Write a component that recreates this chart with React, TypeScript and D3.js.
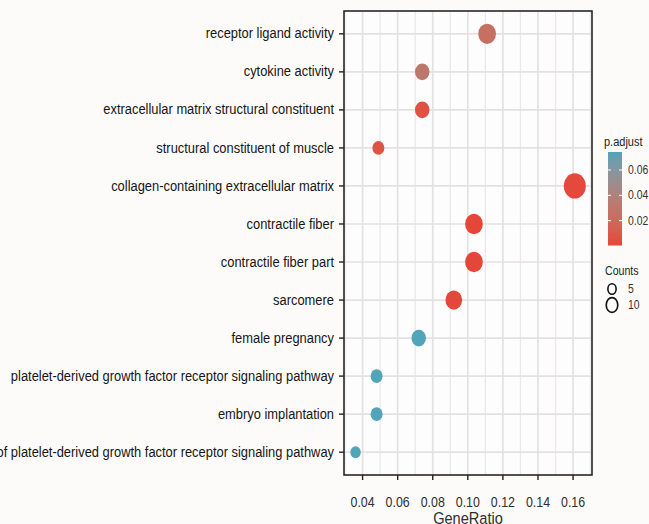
import React from "react";
import * as d3 from "d3";

// GO enrichment terms, top to bottom
const terms = [
  "receptor ligand activity",
  "cytokine activity",
  "extracellular matrix structural constituent",
  "structural constituent of muscle",
  "collagen-containing extracellular matrix",
  "contractile fiber",
  "contractile fiber part",
  "sarcomere",
  "female pregnancy",
  "platelet-derived growth factor receptor signaling pathway",
  "embryo implantation",
  "regulation of platelet-derived growth factor receptor signaling pathway",
];
const geneRatio = [0.111, 0.074, 0.074, 0.049, 0.161, 0.1035, 0.1035, 0.092, 0.072, 0.048, 0.048, 0.036];
const counts = [9, 6, 6, 4, 14, 9, 9, 8, 6, 4, 4, 3];
const pAdjust = [0.025, 0.031, 0.006, 0.007, 0.0015, 0.0004, 0.0006, 0.001, 0.0742, 0.0742, 0.0742, 0.0742];

const xTicks = [0.04, 0.06, 0.08, 0.1, 0.12, 0.14, 0.16];
const xMinor = [0.03, 0.05, 0.07, 0.09, 0.11, 0.13, 0.15, 0.17];
const colorTicks = [0.02, 0.04, 0.06];
const sizeBreaks = [5, 10];

const W = 649;
const H = 524;
const panel = { left: 344, right: 592, top: 11, bottom: 475 };
const STRETCH = 1.15; // vertical text/marker aspect
const FONT = "'Liberation Sans', Arial, Helvetica, sans-serif";
const LOW = "#E5463A";
const HIGH = "#52A4B8";

function T({ x, y, size, anchor = "start", fill = "#1e1e1e", children }: any) {
  return (
    <text
      transform={`translate(${x},${y}) scale(1,${STRETCH})`}
      fontSize={size}
      textAnchor={anchor}
      fill={fill}
      fontFamily={FONT}
    >
      {children}
    </text>
  );
}

export default function App() {
  const x = d3.scaleLinear().domain([0.0294, 0.1708]).range([panel.left, panel.right]);
  const y = d3.scalePoint<string>().domain(terms).range([panel.top, panel.bottom]).padding(0.6);
  const pExtent = d3.extent(pAdjust) as [number, number];
  const color = d3.scaleLinear<string>().domain(pExtent).range([LOW, HIGH]).interpolate(d3.interpolateLab);
  const size = d3.scaleSqrt().domain([3, 14]).range([5.2, 11]);

  // colorbar geometry
  const cb = { x: 608, w: 14, top: 152, bottom: 245.5 };
  const cbY = d3.scaleLinear().domain(pExtent).range([cb.bottom, cb.top]);
  const stops = d3.range(0, 1.0001, 0.1);

  const rows = terms.map((t, i) => ({ t, r: geneRatio[i], n: counts[i], p: pAdjust[i] }));

  return (
    <svg
      width={W}
      height={H}
      style={{ position: "absolute", left: 0, top: 0, display: "block" }}
    >
      <defs>
        <linearGradient id="pgrad" x1="0" y1="1" x2="0" y2="0">
          {stops.map((s) => (
            <stop key={s} offset={s} stopColor={color(pExtent[0] + s * (pExtent[1] - pExtent[0]))} />
          ))}
        </linearGradient>
        <clipPath id="panelClip">
          <rect x={panel.left} y={panel.top} width={panel.right - panel.left} height={panel.bottom - panel.top} />
        </clipPath>
      </defs>
      <rect x={0} y={0} width={W} height={H} fill="#fcfbfa" />
      <rect
        x={panel.left}
        y={panel.top}
        width={panel.right - panel.left}
        height={panel.bottom - panel.top}
        fill="#fefdfd"
      />
      <g clipPath="url(#panelClip)">
        {xMinor.map((v) => (
          <line key={"m" + v} x1={x(v)} x2={x(v)} y1={panel.top} y2={panel.bottom} stroke="#ebe8e8" strokeWidth={1.3} />
        ))}
        {xTicks.map((v) => (
          <line key={"M" + v} x1={x(v)} x2={x(v)} y1={panel.top} y2={panel.bottom} stroke="#e4e1e1" strokeWidth={1.7} />
        ))}
        {terms.map((t) => (
          <line key={"h" + t} x1={panel.left} x2={panel.right} y1={y(t)} y2={y(t)} stroke="#e4e1e1" strokeWidth={1.7} />
        ))}
        {rows.map((d) => (
          <ellipse
            key={"pt" + d.t}
            cx={x(d.r)}
            cy={y(d.t)}
            rx={size(d.n)}
            ry={size(d.n) * STRETCH}
            fill={color(d.p)}
          />
        ))}
      </g>
      <rect
        x={panel.left}
        y={panel.top}
        width={panel.right - panel.left}
        height={panel.bottom - panel.top}
        fill="none"
        stroke="#1a1a1a"
        strokeWidth={1.5}
      />
      {/* y axis */}
      {terms.map((t) => (
        <g key={"yl" + t}>
          <line x1={panel.left - 5} x2={panel.left} y1={y(t)} y2={y(t)} stroke="#222" strokeWidth={1.4} />
          <T x={panel.left - 10} y={(y(t) as number) + 4.6} size={12.9} anchor="end" fill="#161616">
            {t}
          </T>
        </g>
      ))}
      {/* x axis */}
      {xTicks.map((v) => (
        <g key={"xl" + v}>
          <line x1={x(v)} x2={x(v)} y1={panel.bottom} y2={panel.bottom + 5} stroke="#222" strokeWidth={1.4} />
          <T x={x(v)} y={506.5} size={12.4} anchor="middle" fill="#2e2e2e">
            {d3.format(".2f")(v)}
          </T>
        </g>
      ))}
      <T x={(panel.left + panel.right) / 2} y={524} size={14.6} anchor="middle" fill="#2e2e2e">
        GeneRatio
      </T>
      {/* colour legend */}
      <T x={604} y={145.5} size={11} fill="#222">
        p.adjust
      </T>
      <rect x={cb.x} y={cb.top} width={cb.w} height={cb.bottom - cb.top} fill="url(#pgrad)" />
      {colorTicks.map((v) => (
        <g key={"ct" + v}>
          <line x1={cb.x} x2={cb.x + 3} y1={cbY(v)} y2={cbY(v)} stroke="#fff" strokeWidth={1} />
          <line x1={cb.x + cb.w - 3} x2={cb.x + cb.w} y1={cbY(v)} y2={cbY(v)} stroke="#fff" strokeWidth={1} />
          <T x={628} y={cbY(v) + 4} size={10.4} fill="#333">
            {d3.format(".2f")(v)}
          </T>
        </g>
      ))}
      {/* size legend */}
      <T x={605} y={275} size={10.6} fill="#222">
        Counts
      </T>
      {sizeBreaks.map((v, i) => (
        <g key={"sz" + v}>
          <ellipse
            cx={612}
            cy={289 + i * 16}
            rx={size(v) * 0.62}
            ry={size(v) * 0.62 * 1.28}
            fill="none"
            stroke="#111"
            strokeWidth={1.6}
          />
          <T x={628} y={289 + i * 16 + 4} size={10.4} fill="#333">
            {v}
          </T>
        </g>
      ))}
    </svg>
  );
}
